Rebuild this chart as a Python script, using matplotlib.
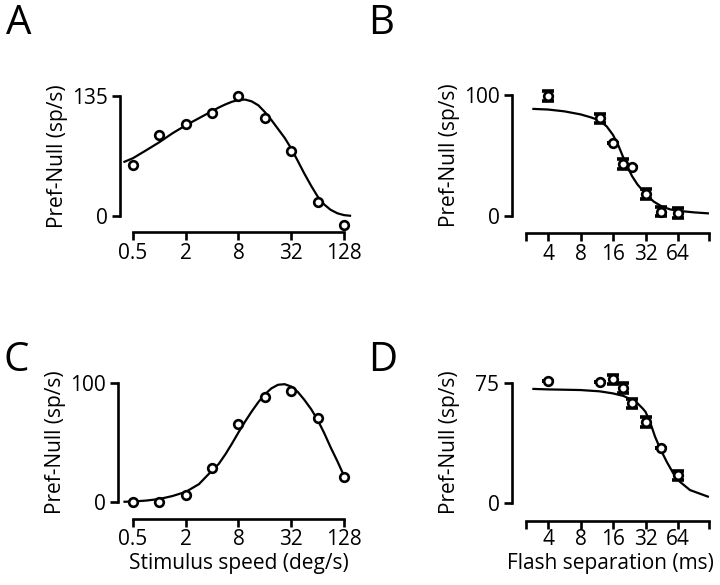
import matplotlib
matplotlib.use("Agg")
import matplotlib.pyplot as plt
import numpy as np

plt.rcParams["font.family"] = ["Open Sans", "DejaVu Sans"]
plt.rcParams["font.size"] = 15

# panel A / C: stimulus speed tuning
speed = [0.5, 1, 2, 4, 8, 16, 32, 64, 128]
speed_ticks = [0.5, 2, 8, 32, 128]
speed_ticklabels = ["0.5", "2", "8", "32", "128"]

a_resp = [57, 91, 104, 116, 135, 110, 73, 16, -10]
a_fit_x = [0.4, 0.5, 0.71, 1, 1.41, 2, 2.83, 4, 4.76, 5.66, 6.73, 8, 9.5, 11.3,
           13.5, 16, 19, 22.6, 26.9, 32, 38, 45, 54, 64, 76, 90, 108, 128, 150]
a_fit_y = [61, 65, 74, 83, 93, 102, 110, 118, 122, 125.5, 128.5, 130.5, 131, 129,
           124.5, 117, 108, 98, 88, 76, 62, 48, 34, 22, 13, 7, 3, 1, 0.3]

c_resp = [0.3, 0.3, 5.9, 28.3, 65.5, 88.5, 93.3, 70.3, 21.3]
c_fit_x = [0.4, 0.5, 0.71, 1, 1.41, 2, 2.83, 4, 4.76, 5.66, 6.73, 8, 9.5, 11.3,
           13.5, 16, 19, 22.6, 26.9, 32, 38, 45, 54, 64, 76, 90, 108, 128]
c_fit_y = [0.2, 0.4, 1.2, 2.5, 5, 8.5, 15, 26.5, 32, 40, 49, 58.5, 67.5, 76,
           84, 90.5, 95.5, 98.5, 99, 97, 92.5, 86, 78, 69, 58, 46, 34, 22]

# panel B / D: flash separation
flash = [4, 12, 16, 20, 24, 32, 45, 64]
flash_ticks = [4, 8, 16, 32, 64]
flash_ticklabels = ["4", "8", "16", "32", "64"]

b_resp = [99.2, 80.7, 60.6, 43, 40.8, 18.2, 3.6, 2.2]
b_sem = [4, 4, 0, 4, 0, 4, 4, 4]
b_fit_x = [2.93, 4, 5.66, 8, 10, 12, 14, 16, 18, 20, 22, 24, 27, 32, 38, 45,
           54, 64, 90, 121]
b_fit_y = [88.5, 88, 86.5, 84, 81.5, 79, 74, 67, 58, 48, 40, 33, 26, 18.5, 12,
           8, 5.5, 4.3, 3, 2.2]

d_resp = [76.5, 75.4, 77.3, 71.7, 62.3, 50.8, 34.6, 17.3]
d_sem = [0, 0, 3, 3, 3, 3, 0, 3]
d_fit_x = [2.93, 4, 8, 12, 16, 20, 24, 27, 30, 32, 35.2, 39.2, 43.6, 50.3,
           57.9, 66.6, 82.6, 121]
d_fit_y = [71.3, 71, 70.6, 69.8, 68.5, 66.9, 64.4, 62.3, 59.2, 57, 50.8, 41.5,
           34.2, 25.8, 18.5, 13.3, 8.1, 4]

W, H = 720, 585
LW = 1.9


def make_axes(fig, left, top, right, bottom):
    return fig.add_axes([left / W, 1 - bottom / H, (right - left) / W, (bottom - top) / H])


def style_axes(ax, xlim, ylim, xbounds, ytop, xticks, xticklabels, label_y, xpad=2):
    ax.set_xscale("log", base=2)
    ax.set_xlim(*xlim)
    ax.set_ylim(*ylim)
    for side in ["top", "right"]:
        ax.spines[side].set_visible(False)
    for side in ["left", "bottom"]:
        ax.spines[side].set_linewidth(LW)
    ax.spines["left"].set_bounds(0, ytop)
    ax.spines["bottom"].set_bounds(*xbounds)
    ax.set_yticks([0, ytop])
    ax.set_yticklabels(["0", str(ytop)])
    ax.set_xticks(xticks)
    ax.set_xticklabels(xticklabels)
    ax.xaxis.set_minor_locator(matplotlib.ticker.NullLocator())
    ax.tick_params(direction="out", length=6, width=LW)
    ax.tick_params(axis="y", pad=3)
    ax.tick_params(axis="x", pad=xpad)
    ax.set_ylabel("Pref-Null (sp/s)")
    width = ax.get_position().width * W
    ax.yaxis.set_label_coords(-52 / width, label_y)


def set_xlabel(ax, text, center_px, top_px):
    pos = ax.get_position()
    left, bottom = pos.x0 * W, (1 - pos.y0) * H
    ax.set_xlabel(text)
    ax.xaxis.set_label_coords((center_px - left) / (pos.width * W),
                              -(top_px - bottom) / (pos.height * H))


def draw_points(ax, x, y, sem=None):
    if sem is not None:
        ax.errorbar(x, y, yerr=sem, fmt="none", ecolor="black", elinewidth=LW,
                    capsize=4.5, capthick=2.6, clip_on=False, zorder=3)
    ax.plot(x, y, "o", ms=6.2, mfc="white", mec="black", mew=1.9, clip_on=False, zorder=4)


fig = plt.figure(figsize=(7.2, 5.85), dpi=100)

# A
ax = make_axes(fig, 120, 90, 352, 232)
ax.plot(a_fit_x, a_fit_y, color="black", lw=1.6, clip_on=False)
draw_points(ax, speed, a_resp)
style_axes(ax, (0.356, 158), (-18, 141.75), (0.5, 128), 135, speed_ticks,
           speed_ticklabels, 0.535)

# B
ax = make_axes(fig, 512, 89, 712, 233)
ax.plot(b_fit_x, b_fit_y, color="black", lw=1.6, clip_on=False)
draw_points(ax, flash, b_resp, b_sem)
style_axes(ax, (1.855, 132.2), (-14.05, 104.96), (2.5, 125), 100,
           [2.5] + flash_ticks + [125], [""] + flash_ticklabels + [""], 0.538)

# C
ax = make_axes(fig, 118, 377, 352, 519)
ax.plot(c_fit_x, c_fit_y, color="black", lw=1.6, clip_on=False)
draw_points(ax, speed, c_resp)
style_axes(ax, (0.337, 158), (-14.3, 105.04), (0.5, 128), 100, speed_ticks,
           speed_ticklabels, 0.539, xpad=1)
set_xlabel(ax, "Stimulus speed (deg/s)", 239, 553)

# D
ax = make_axes(fig, 512, 377, 712, 521)
ax.plot(d_fit_x, d_fit_y, color="black", lw=1.6, clip_on=False)
draw_points(ax, flash, d_resp, d_sem)
style_axes(ax, (1.855, 132.2), (-11.25, 78.75), (2.5, 125), 75,
           [2.5] + flash_ticks + [125], [""] + flash_ticklabels + [""], 0.545, xpad=0)
set_xlabel(ax, "Flash separation (ms)", 610, 553)

for letter, x, y in [("A", 6, 34), ("B", 368, 34), ("C", 4, 371), ("D", 368, 371)]:
    fig.text(x / W, 1 - y / H, letter, fontsize=29, ha="left", va="baseline")

fig.savefig("out.png", dpi=100)
